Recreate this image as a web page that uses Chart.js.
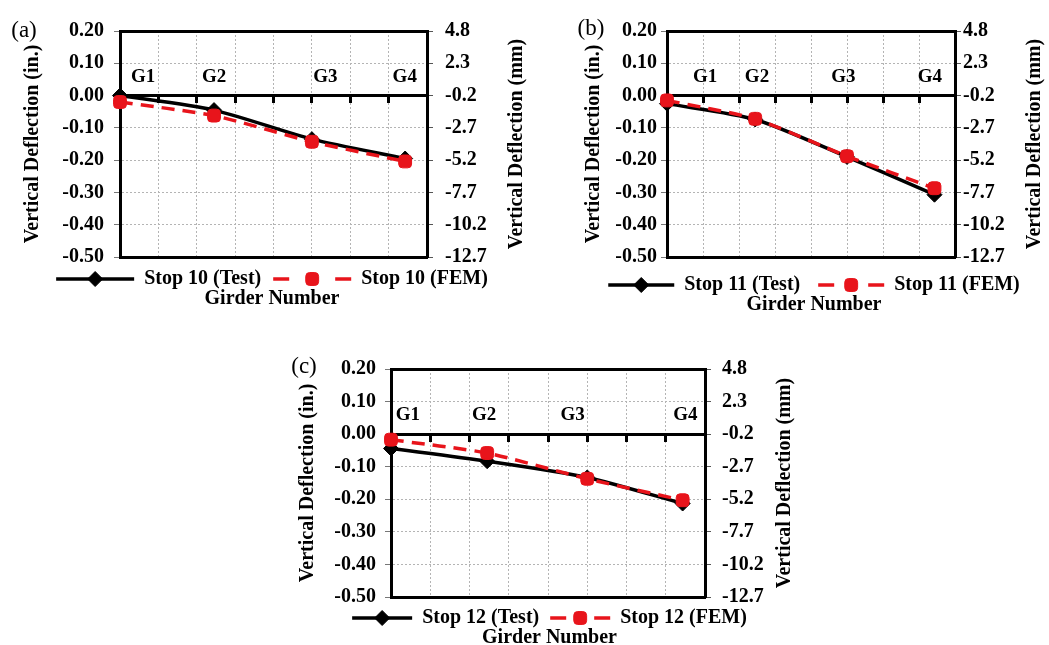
<!DOCTYPE html>
<html>
<head>
<meta charset="utf-8">
<script src="https://cdn.jsdelivr.net/npm/chart.js@4.4.1/dist/chart.umd.min.js"></script>
<style>
  html, body { margin: 0; padding: 0; background: #fff; overflow: hidden; }
  body { width: 1049px; height: 645px; position: relative; }
  .panel { position: absolute; }
</style>
</head>
<body>
<div class="panel" style="left:0;top:0"><canvas id="chartA" width="535" height="309"></canvas></div>
<div class="panel" style="left:560px;top:0"><canvas id="chartB" width="489" height="315"></canvas></div>
<div class="panel" style="left:270px;top:325px"><canvas id="chartC" width="560" height="323"></canvas></div>
<script>
// girder names and their position along the x axis
const girders = ["G1", "G2", "G3", "G4"];
const girderPos = [0, 2.45, 5, 7.43];

// left axis (in.) and matching right axis labels (mm), top to bottom
const inchTicks = [0.2, 0.1, 0, -0.1, -0.2, -0.3, -0.4, -0.5];
const mmTicks = ["4.8", "2.3", "-0.2", "-2.7", "-5.2", "-7.7", "-10.2", "-12.7"];

// vertical deflection (in.) at G1..G4
const test10 = [0.0, -0.045, -0.135, -0.195];
const fem10 = [-0.02, -0.062, -0.143, -0.204];
const test11 = [-0.025, -0.074, -0.19, -0.307];
const fem11 = [-0.015, -0.072, -0.188, -0.287];
const test12 = [-0.044, -0.083, -0.133, -0.213];
const fem12 = [-0.017, -0.058, -0.137, -0.203];

const RED = "#e8141b";
const GRID = "#b4b4b4";
const FONT = '"Liberation Serif", "Times New Roman", serif';
const bold = { family: FONT, size: 20, weight: "bold" };

Chart.defaults.font.family = FONT;
Chart.defaults.color = "#000";

// panel letter, girder labels, right axis title and legend markers
const decor = {
  id: "decor",
  afterDraw(chart, args, o) {
    const { ctx, chartArea, scales, legend } = chart;
    ctx.save();
    ctx.fillStyle = "#000";
    ctx.textAlign = "center";
    ctx.textBaseline = "middle";
    ctx.font = "23px " + FONT;
    ctx.fillText(o.letter, o.letterAt[0], o.letterAt[1]);

    ctx.font = "bold 19px " + FONT;
    girders.forEach((g, i) => {
      ctx.fillText(g, scales.x.getPixelForValue(o.labelX[i]), scales.y.getPixelForValue(o.labelY));
    });

    ctx.font = "bold 20px " + FONT;
    ctx.translate(scales.y2.right - o.titleOffset, (chartArea.top + chartArea.bottom) / 2);
    ctx.rotate(-Math.PI / 2);
    ctx.fillText("Vertical Deflection (mm)", 0, 0);
    ctx.restore();

    legend.legendItems.forEach((item, i) => {
      const hb = legend.legendHitBoxes[i];
      const ds = chart.data.datasets[item.datasetIndex];
      ctx.save();
      ctx.setLineDash([]);
      ctx.fillStyle = ds.backgroundColor;
      ctx.strokeStyle = ds.borderColor;
      ctx.lineWidth = 1;
      Chart.helpers.drawPoint(
        ctx,
        { pointStyle: ds.pointStyle, radius: ds.pointRadius, rotation: 0, borderWidth: 1 },
        hb.left + o.legendLine / 2,
        hb.top + hb.height / 2
      );
      ctx.restore();
    });
  },
};

const series = (stop, test, fem) => [
  {
    label: `Stop ${stop} (Test)`,
    data: girderPos.map((x, i) => ({ x, y: test[i] })),
    borderColor: "#000",
    backgroundColor: "#000",
    borderWidth: 3.5,
    pointStyle: "rectRot",
    pointRadius: 7.5,
    pointBorderWidth: 1,
    tension: 0.25,
    clip: false,
    order: 1,
  },
  {
    label: `Stop ${stop} (FEM)`,
    data: girderPos.map((x, i) => ({ x, y: fem[i] })),
    borderColor: RED,
    backgroundColor: RED,
    borderWidth: 3.5,
    borderDash: [13, 8],
    pointStyle: "rectRounded",
    pointRadius: 7.5,
    pointBorderWidth: 1,
    tension: 0.2,
    clip: false,
    order: 0,
  },
];

const yMin = Math.min(...inchTicks);
const yMax = Math.max(...inchTicks);
const tickIndex = (v) => inchTicks.findIndex((t) => Math.abs(t - v) < 1e-6);

function makeChart(id, stop, test, fem, p) {
  const xBase = { type: "linear", min: 0, max: 8, ticks: { display: false, stepSize: 1 } };
  return new Chart(document.getElementById(id), {
    type: "line",
    data: { datasets: series(stop, test, fem) },
    options: {
      responsive: false,
      animation: false,
      events: [],
      layout: { padding: { left: p.padL, right: p.padR, top: p.padT, bottom: 0 } },
      scales: {
        x: {
          ...xBase,
          position: "bottom",
          grid: { color: GRID, lineWidth: 1, drawTicks: false },
          border: { color: "#000", width: 3, dash: [2, 2] },
          afterFit: (s) => { s.height = 0; },
        },
        xTop: {
          ...xBase,
          position: "top",
          grid: { display: false, drawTicks: false },
          border: { color: "#000", width: 3 },
          afterFit: (s) => { s.height = 0; },
        },
        xZero: {
          ...xBase,
          position: { y: 0 },
          grid: { drawOnChartArea: false, drawTicks: true, tickLength: 6, tickWidth: 3, tickColor: "#000" },
          border: { color: "#000", width: 3 },
        },
        y: {
          position: "left",
          min: yMin,
          max: yMax,
          ticks: {
            stepSize: 0.1,
            padding: p.tickPadL,
            color: "#000",
            font: bold,
            callback: (v) => (Math.abs(v) < 1e-9 ? 0 : v).toFixed(2),
          },
          grid: { color: GRID, lineWidth: 1, tickLength: 6, tickColor: "#777" },
          border: { color: "#000", width: 3, dash: [2, 2] },
          title: {
            display: true,
            text: "Vertical Deflection (in.)",
            color: "#000",
            font: bold,
            padding: { top: p.titlePadL, bottom: 0 },
          },
          afterFit: (s) => { s.width = p.leftW; },
        },
        y2: {
          position: "right",
          min: yMin,
          max: yMax,
          ticks: {
            stepSize: 0.1,
            padding: p.tickPadR,
            color: "#000",
            font: bold,
            callback: (v) => mmTicks[tickIndex(v)],
          },
          grid: { drawOnChartArea: false, tickLength: 6, tickColor: "#555" },
          border: { color: "#000", width: 3 },
          afterFit: (s) => { s.width = p.rightW; },
        },
      },
      plugins: {
        tooltip: { enabled: false },
        legend: {
          position: "bottom",
          fullSize: true,
          maxHeight: p.legendH,
          labels: {
            usePointStyle: true,
            pointStyleWidth: p.decor.legendLine,
            padding: p.legendPad,
            color: "#000",
            font: bold,
            sort: (a, b) => a.datasetIndex - b.datasetIndex,
            generateLabels: (chart) =>
              Chart.defaults.plugins.legend.labels.generateLabels(chart).map((item) => {
                const ds = chart.data.datasets[item.datasetIndex];
                item.pointStyle = "line";
                item.lineWidth = 3.5;
                item.lineDash = ds.borderDash ? [16, p.decor.legendLine - 32] : [];
                return item;
              }),
          },
        },
        subtitle: {
          display: true,
          text: "Girder Number",
          position: "bottom",
          color: "#000",
          font: { ...bold, lineHeight: 1 },
          padding: 0,
        },
        decor: p.decor,
      },
    },
    plugins: [decor],
  });
}

makeChart("chartA", 10, test10, fem10, {
  padL: 9, padR: 0, padT: 31,
  leftW: 111, titlePadL: 12, tickPadL: 10,
  rightW: 108, tickPadR: 12,
  legendPad: 12, legendH: 32,
  decor: { letter: "(a)", letterAt: [24, 31], labelX: [0.6, 2.45, 5.35, 7.42], labelY: 0.057, titleOffset: 18, legendLine: 78 },
});

makeChart("chartB", 11, test11, fem11, {
  padL: 19, padR: 0, padT: 31,
  leftW: 88, titlePadL: 3, tickPadL: 4,
  rightW: 94, tickPadR: 2,
  legendPad: 18, legendH: 38,
  decor: { letter: "(b)", letterAt: [31, 29], labelX: [1.06, 2.5, 4.9, 7.3], labelY: 0.057, titleOffset: 14, legendLine: 66 },
});

makeChart("chartC", 12, test12, fem12, {
  padL: 0, padR: 1, padT: 44,
  leftW: 121, titlePadL: 26, tickPadL: 9,
  rightW: 124, tickPadR: 11,
  legendPad: 11, legendH: 31,
  decor: { letter: "(c)", letterAt: [34, 42], labelX: [0.43, 2.37, 4.63, 7.5], labelY: 0.057, titleOffset: 44, legendLine: 60 },
});
</script>
</body>
</html>
